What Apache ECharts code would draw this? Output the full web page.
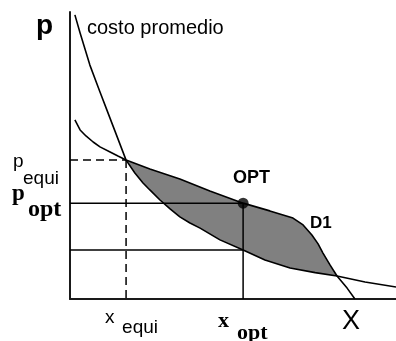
<!DOCTYPE html>
<html>
<head>
<meta charset="utf-8">
<script src="https://cdn.jsdelivr.net/npm/echarts@6/dist/echarts.min.js"></script>
<style>
  html, body { margin: 0; padding: 0; background: #fff; }
  #chart { width: 396px; height: 341px; }
</style>
</head>
<body>
<div id="chart"></div>
<script>
// Curva de costo promedio: pares [x, p]
const costoPromedio = [
  [0.15, 9.90], [0.31, 9.27], [0.61, 8.15], [0.92, 7.21], [1.13, 6.59],
  [1.38, 5.85], [1.72, 4.84], [1.99, 4.39], [2.24, 4.04], [2.45, 3.80],
  [2.76, 3.45], [3.07, 3.14], [3.37, 2.86], [3.68, 2.65], [3.99, 2.47],
  [4.60, 2.06], [5.31, 1.71], [5.98, 1.36], [6.75, 1.08], [7.52, 0.92],
  [8.19, 0.80], [9.05, 0.59], [10.0, 0.42]
];
// Curva de demanda D1: pares [x, p]
const demandaD1 = [
  [0.15, 6.24], [0.31, 5.89], [0.49, 5.68], [0.71, 5.47], [0.92, 5.30],
  [1.23, 5.12], [1.47, 4.98], [1.72, 4.84], [2.45, 4.53], [3.37, 4.18],
  [4.29, 3.76], [5.31, 3.34], [6.13, 3.07], [6.84, 2.82], [7.15, 2.58],
  [7.42, 2.23], [7.61, 1.92], [7.76, 1.60], [7.98, 1.18], [8.19, 0.80],
  [8.50, 0.38], [8.74, 0.00]
];
// Equilibrio y óptimo
const xEqui = 1.72, pEqui = 4.84;
const xOpt = 5.31, pOpt = 3.34, costoOpt = 1.71;
const xCorte = 8.19;   // segundo corte entre demanda y costo promedio

// Región sombreada entre la demanda (arriba) y el costo promedio (abajo)
const region = demandaD1.filter(p => p[0] >= xEqui && p[0] <= xCorte)
  .concat(costoPromedio.filter(p => p[0] >= xEqui && p[0] <= xCorte).reverse());

const chart = echarts.init(document.getElementById('chart'), null, { renderer: 'canvas' });

const axisLine = { show: true, onZero: false, lineStyle: { color: '#1a1a1a', width: 2 } };
const segment = (pts, dashed) => ({
  type: 'line', data: pts, symbol: 'none', silent: true, z: 4,
  lineStyle: { color: '#000', width: 1.5, type: dashed ? [8, 5] : 'solid' }
});

chart.setOption({
  animation: false,
  grid: { left: 70, top: 12, right: 0, bottom: 42 },
  xAxis: { type: 'value', min: 0, max: 10, axisLine, axisTick: { show: false },
           axisLabel: { show: false }, splitLine: { show: false } },
  yAxis: { type: 'value', min: 0, max: 10, axisLine, axisTick: { show: false },
           axisLabel: { show: false }, splitLine: { show: false } },
  series: [
    {
      type: 'custom', silent: true, z: 2,
      data: [[0, 0]],
      renderItem: (params, api) => ({
        type: 'polygon',
        shape: { points: region.map(p => api.coord(p)) },
        style: { fill: '#808080', stroke: 'none' }
      })
    },
    segment([[0, pEqui], [xEqui, pEqui]], true),
    segment([[xEqui, pEqui], [xEqui, 0]], true),
    segment([[0, pOpt], [xOpt, pOpt]], false),
    segment([[xOpt, pOpt], [xOpt, 0]], false),
    segment([[0, costoOpt], [xOpt, costoOpt]], false),
    { type: 'line', data: costoPromedio, symbol: 'none', silent: true, z: 5,
      lineStyle: { color: '#000', width: 1.6 } },
    { type: 'line', data: demandaD1, symbol: 'none', silent: true, z: 5,
      lineStyle: { color: '#000', width: 1.6 } },
    { type: 'scatter', data: [[xOpt, pOpt]], symbol: 'circle', symbolSize: 11, z: 6,
      silent: true, itemStyle: { color: '#000' } }
  ]
});

// Rótulos: se colocan a partir de la posición en pantalla de cada valor
const px = (x, y) => chart.convertToPixel({ gridIndex: 0 }, [x, y]);
const sans = '"Liberation Sans", Arial, sans-serif';
const serif = '"Liberation Serif", "Times New Roman", serif';
// x izquierda, y de línea base
const label = (text, x, baseline, size, family, weight) => ({
  type: 'text', silent: true, z: 10,
  x: x, y: baseline - 0.31 * size,
  style: { text, fill: '#000', font: `${weight || 'normal'} ${size}px ${family}`,
           textAlign: 'left', textVerticalAlign: 'middle', verticalAlign: 'middle' }
});

const o = px(0, 0);
const yEq = px(0, pEqui)[1], yOp = px(0, pOpt)[1];
const xEq = px(xEqui, 0)[0], xOp = px(xOpt, 0)[0];
const yTop = px(0, 10)[1];
const optPt = px(xOpt, pOpt);

chart.setOption({
  graphic: [
    label('p', o[0] - 34, yTop + 23, 28, sans, 'bold'),
    label('costo promedio', o[0] + 17, yTop + 23, 20, sans),
    label('p', 13, yEq + 8, 19, sans),
    label('equi', 23, yEq + 25, 19, sans),
    label('p', 12, yOp - 2, 23, serif, 'bold'),
    label('opt', 28, yOp + 14, 24, serif, 'bold'),
    label('x', xEq - 21, o[1] + 25, 19, sans),
    label('equi', xEq - 4, o[1] + 35, 19, sans),
    label('x', xOp - 25, o[1] + 29, 22, serif, 'bold'),
    label('opt', xOp - 6, o[1] + 41, 22, serif, 'bold'),
    label('X', 342, o[1] + 31, 27, sans),
    label('OPT', optPt[0] - 10, optPt[1] - 20, 18, sans, 'bold'),
    label('D1', 310, yOp + 25, 17, sans, 'bold')
  ]
});
</script>
</body>
</html>
